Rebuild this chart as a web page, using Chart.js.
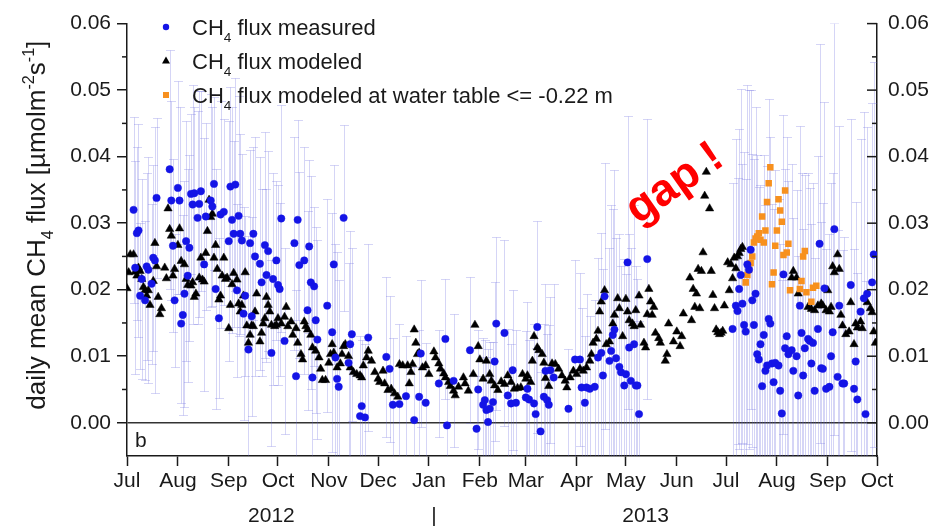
<!DOCTYPE html>
<html>
<head>
<meta charset="utf-8">
<title>Daily mean CH4 flux</title>
<script src="https://cdn.jsdelivr.net/npm/chart.js@4.4.1/dist/chart.umd.min.js"></script>
<style>
  html, body { margin: 0; padding: 0; background: #fff; }
  #wrap { width: 940px; height: 526px; }
</style>
</head>
<body>
<div id="wrap"><canvas id="flux" width="940" height="526"></canvas></div>
<script>
// x values are days counted from 1 Jul 2012
const monthDays = [0, 31, 62, 92, 123, 153, 184, 215, 243, 274, 304, 335, 365, 396, 427, 457];
const monthLabels = ['Jul', 'Aug', 'Sep', 'Oct', 'Nov', 'Dec', 'Jan', 'Feb', 'Mar', 'Apr', 'May', 'Jun', 'Jul', 'Aug', 'Sep', 'Oct'];
const yearLabels = ['2012', '2013'];
const yearCentreDays = [88, 316];
const yearBreakDay = 187;
const fluxTicks = [0, 0.01, 0.02, 0.03, 0.04, 0.05, 0.06];
const fluxMinorTicks = [0.005, 0.015, 0.025, 0.035, 0.045, 0.055];

// measured daily mean: [day, flux, standard deviation]
const measured = [
  [4, 0.0320, 0.014], [5, 0.0233, 0.016], [6, 0.0285, 0.013], [7, 0.0289, 0.016], [8, 0.0191, 0.011],
  [9, 0.0216, 0.015], [11, 0.0184, 0.012], [12, 0.0235, 0.014], [13, 0.0230, 0.017], [15, 0.0209, 0.012],
  [16, 0.0248, 0.014], [17, 0.0244, 0.020], [18, 0.0338, 0.012], [26, 0.0381, 0.018], [27, 0.0334, 0.015],
  [28, 0.0266, 0.013], [29, 0.0184, 0.010], [31, 0.0353, 0.016], [32, 0.0334, 0.014], [33, 0.0149, 0.012],
  [34, 0.0162, 0.015], [35, 0.0194, 0.017], [36, 0.0273, 0.018], [37, 0.0221, 0.016], [38, 0.0263, 0.014],
  [39, 0.0344, 0.012], [40, 0.0328, 0.018], [41, 0.0345, 0.013], [43, 0.0308, 0.016], [44, 0.0329, 0.017],
  [45, 0.0348, 0.015], [47, 0.0238, 0.019], [48, 0.0310, 0.014], [51, 0.0334, 0.016], [52, 0.0325, 0.015],
  [53, 0.0359, 0.013], [54, 0.0201, 0.018], [56, 0.0157, 0.012], [57, 0.0313, 0.017], [59, 0.0317, 0.014],
  [62, 0.0273, 0.018], [63, 0.0355, 0.015], [64, 0.0305, 0.017], [65, 0.0284, 0.014], [66, 0.0358, 0.016],
  [67, 0.0199, 0.013], [68, 0.0311, 0.018], [69, 0.0284, 0.015], [70, 0.0274, 0.013], [71, 0.0164, 0.016],
  [72, 0.0191, 0.012], [74, 0.0110, 0.017], [75, 0.0270, 0.014], [76, 0.0160, 0.015], [77, 0.0284, 0.013],
  [78, 0.0250, 0.018], [81, 0.0239, 0.016], [82, 0.0211, 0.014], [84, 0.0267, 0.017], [85, 0.0222, 0.013],
  [86, 0.0258, 0.015], [88, 0.0105, 0.014], [89, 0.0216, 0.016], [91, 0.0244, 0.012], [92, 0.0207, 0.015],
  [93, 0.0201, 0.013], [94, 0.0307, 0.017], [96, 0.0123, 0.014], [102, 0.0270, 0.016], [103, 0.0070, 0.013],
  [104, 0.0305, 0.015], [105, 0.0237, 0.014], [108, 0.0244, 0.017], [110, 0.0169, 0.015], [111, 0.0265, 0.013],
  [112, 0.0211, 0.016], [113, 0.0068, 0.014], [114, 0.0205, 0.012], [115, 0.0154, 0.014], [116, 0.0125, 0.015],
  [122, 0.0176, 0.016], [125, 0.0136, 0.018], [126, 0.0238, 0.015], [127, 0.0098, 0.017], [128, 0.0066, 0.019],
  [129, 0.0054, 0.016], [132, 0.0308, 0.014], [135, 0.0090, 0.015], [136, 0.0118, 0.017], [137, 0.0133, 0.013],
  [142, 0.0010, 0.012], [143, 0.0025, 0.010], [145, 0.0008, 0.011], [147, 0.0128, 0.014], [158, 0.0099, 0.012],
  [160, 0.0081, 0.011], [162, 0.0027, 0.010], [166, 0.0028, 0.012], [170, 0.0040, 0.009], [175, 0.0004, 0.008],
  [178, 0.0039, 0.010], [179, 0.0104, 0.011], [182, 0.0030, 0.009], [190, 0.0059, 0.008], [194, 0.0126, 0.009],
  [195, -0.0004, 0.007], [199, 0.0063, 0.010], [209, 0.0109, 0.011], [213, -0.0009, 0.008], [214, 0.0050, 0.009],
  [217, 0.0027, 0.010], [218, 0.0034, 0.009], [219, 0.0019, 0.008], [220, 0.0001, 0.011], [221, 0.0021, 0.010],
  [223, 0.0031, 0.009], [224, 0.0092, 0.012], [225, 0.0149, 0.013], [230, 0.0135, 0.014], [232, 0.0041, 0.010],
  [234, 0.0029, 0.009], [235, 0.0079, 0.012], [237, 0.0030, 0.011], [243, 0.0038, 0.010], [244, 0.0051, 0.013],
  [245, 0.0035, 0.009], [248, 0.0029, 0.012], [249, 0.0013, 0.010], [250, 0.0144, 0.016], [252, -0.0013, 0.009],
  [254, 0.0039, 0.011], [255, 0.0078, 0.013], [256, 0.0034, 0.010], [257, 0.0027, 0.012], [258, 0.0079, 0.011],
  [260, 0.0068, 0.014], [269, 0.0021, 0.009], [273, 0.0095, 0.015], [276, 0.0095, 0.013], [277, 0.0053, 0.012],
  [279, 0.0030, 0.010], [280, 0.0053, 0.014], [282, 0.0051, 0.011], [285, 0.0054, 0.013], [287, 0.0098, 0.015],
  [289, 0.0105, 0.018], [290, 0.0071, 0.016], [291, 0.0190, 0.020], [294, 0.0093, 0.017], [295, 0.0108, 0.022],
  [296, 0.0132, 0.019], [297, 0.0140, 0.024], [298, 0.0097, 0.018], [300, 0.0084, 0.020], [301, 0.0076, 0.016],
  [303, 0.0056, 0.019], [304, 0.0073, 0.015], [305, 0.0241, 0.022], [306, 0.0113, 0.017], [307, 0.0063, 0.020],
  [309, 0.0118, 0.021], [310, 0.0056, 0.018], [311, 0.0056, 0.016], [312, 0.0013, 0.014], [317, 0.0246, 0.021],
  [369, 0.0141, 0.022], [371, 0.0176, 0.025], [372, 0.0168, 0.020], [373, 0.0201, 0.024], [374, 0.0222, 0.028],
  [375, 0.0179, 0.021], [376, 0.0147, 0.026], [377, 0.0137, 0.023], [378, 0.0238, 0.027], [379, 0.0230, 0.027],
  [380, 0.0260, 0.024], [381, 0.0184, 0.022], [382, 0.0147, 0.025], [383, 0.0194, 0.028], [384, 0.0103, 0.030],
  [385, 0.0095, 0.026], [386, 0.0118, 0.024], [387, 0.0055, 0.022], [388, 0.0132, 0.027], [389, 0.0078, 0.025],
  [390, 0.0086, 0.030], [391, 0.0156, 0.033], [392, 0.0149, 0.028], [393, 0.0089, 0.024], [394, 0.0061, 0.026],
  [395, 0.0090, 0.029], [397, 0.0086, 0.025], [398, 0.0048, 0.022], [399, 0.0014, 0.020], [400, 0.0223, 0.024],
  [401, 0.0112, 0.027], [402, 0.0130, 0.030], [403, 0.0103, 0.026], [405, 0.0109, 0.028], [406, 0.0078, 0.023],
  [408, 0.0100, 0.025], [409, 0.0041, 0.021], [410, 0.0176, 0.027], [411, 0.0135, 0.024], [412, 0.0071, 0.022],
  [413, 0.0112, 0.026], [415, 0.0126, 0.025], [416, 0.0123, 0.023], [417, 0.0089, 0.021], [418, 0.0120, 0.024],
  [419, 0.0048, 0.020], [421, 0.0141, 0.026], [422, 0.0269, 0.030], [423, 0.0082, 0.022], [424, 0.0081, 0.025],
  [425, 0.0202, 0.028], [426, 0.0051, 0.021], [428, 0.0054, 0.023], [429, 0.0100, 0.026], [430, 0.0136, 0.024],
  [431, 0.0291, 0.031], [433, 0.0069, 0.022], [434, 0.0176, 0.027], [436, 0.0059, 0.020], [437, 0.0059, 0.022],
  [441, 0.0207, 0.025], [443, 0.0051, 0.021], [444, 0.0092, 0.024], [445, 0.0035, 0.019], [447, 0.0167, 0.026],
  [449, 0.0187, 0.028], [450, 0.0013, 0.020], [451, 0.0194, 0.025], [454, 0.0211, 0.027], [455, 0.0253, 0.029]
];

// modeled daily mean: [day, flux]
const modeled = [
  [0, 0.0202], [1, 0.0226], [2, 0.0253], [4, 0.0253], [5, 0.0227], [6, 0.0221], [7, 0.0233], [8, 0.0228],
  [9, 0.0216], [10, 0.0204], [11, 0.0199], [12, 0.0191], [13, 0.0199], [14, 0.0177], [16, 0.0213], [17, 0.0270],
  [18, 0.0235], [19, 0.0189], [20, 0.0163], [21, 0.0172], [23, 0.0233], [24, 0.0217], [25, 0.0322], [26, 0.0291],
  [27, 0.0281], [28, 0.0221], [29, 0.0231], [31, 0.0267], [32, 0.0292], [33, 0.0243], [35, 0.0238], [36, 0.0216],
  [37, 0.0207], [39, 0.0206], [40, 0.0211], [41, 0.0189], [42, 0.0194], [44, 0.0218], [45, 0.0248], [46, 0.0215],
  [47, 0.0212], [48, 0.0255], [49, 0.0288], [50, 0.0335], [51, 0.0309], [52, 0.0314], [53, 0.0248], [54, 0.0267],
  [55, 0.0231], [56, 0.0185], [57, 0.0191], [58, 0.0221], [59, 0.0248], [60, 0.0216], [61, 0.0218], [62, 0.0142],
  [63, 0.0177], [64, 0.0208], [65, 0.0225], [67, 0.0215], [68, 0.0179], [69, 0.0167], [70, 0.0177], [71, 0.0191],
  [72, 0.0226], [73, 0.0146], [74, 0.0120], [75, 0.0132], [76, 0.0146], [77, 0.0145], [78, 0.0167], [79, 0.0194],
  [81, 0.0122], [82, 0.0135], [83, 0.0149], [84, 0.0157], [85, 0.0189], [86, 0.0177], [87, 0.0167], [88, 0.0147],
  [90, 0.0145], [91, 0.0147], [92, 0.0157], [94, 0.0149], [96, 0.0159], [97, 0.0174], [98, 0.0145], [100, 0.0152],
  [101, 0.0132], [103, 0.0142], [104, 0.0120], [106, 0.0103], [107, 0.0095], [108, 0.0152], [109, 0.0145],
  [110, 0.0140], [112, 0.0132], [113, 0.0113], [115, 0.0108], [117, 0.0098], [118, 0.0081], [119, 0.0064],
  [121, 0.0064], [123, 0.0090], [124, 0.0103], [125, 0.0118], [126, 0.0105], [128, 0.0083], [130, 0.0089],
  [131, 0.0103], [132, 0.0115], [133, 0.0118], [135, 0.0100], [136, 0.0083], [138, 0.0076], [140, 0.0073],
  [142, 0.0071], [143, 0.0068], [144, 0.0086], [146, 0.0098], [147, 0.0108], [149, 0.0093], [151, 0.0076],
  [153, 0.0066], [154, 0.0061], [156, 0.0078], [157, 0.0059], [159, 0.0049], [161, 0.0051], [163, 0.0044],
  [165, 0.0039], [166, 0.0088], [168, 0.0086], [171, 0.0086], [172, 0.0059], [173, 0.0076], [174, 0.0088],
  [175, 0.0140], [176, 0.0120], [177, 0.0103], [178, 0.0105], [180, 0.0083], [182, 0.0086], [184, 0.0073],
  [187, 0.0107], [188, 0.0098], [190, 0.0089], [191, 0.0081], [193, 0.0074], [194, 0.0068], [196, 0.0061],
  [197, 0.0055], [199, 0.0048], [200, 0.0041], [202, 0.0054], [205, 0.0068], [206, 0.0059], [208, 0.0048],
  [211, 0.0073], [212, 0.0147], [214, 0.0115], [215, 0.0095], [217, 0.0066], [219, 0.0093], [221, 0.0073],
  [222, 0.0063], [224, 0.0056], [226, 0.0049], [228, 0.0062], [230, 0.0058], [232, 0.0071], [234, 0.0061],
  [236, 0.0051], [238, 0.0052], [240, 0.0053], [241, 0.0073], [243, 0.0066], [244, 0.0071], [246, 0.0061],
  [247, 0.0093], [248, 0.0130], [250, 0.0113], [251, 0.0109], [253, 0.0103], [254, 0.0090], [255, 0.0067],
  [257, 0.0055], [259, 0.0089], [261, 0.0088], [263, 0.0081], [265, 0.0071], [267, 0.0063], [268, 0.0053],
  [270, 0.0068], [272, 0.0078], [274, 0.0073], [276, 0.0081], [278, 0.0078], [280, 0.0083], [282, 0.0093],
  [283, 0.0103], [284, 0.0120], [286, 0.0126], [287, 0.0138], [288, 0.0167], [289, 0.0182], [291, 0.0199],
  [292, 0.0118], [294, 0.0122], [296, 0.0149], [297, 0.0162], [299, 0.0187], [300, 0.0172], [302, 0.0130],
  [304, 0.0186], [305, 0.0167], [306, 0.0154], [308, 0.0149], [309, 0.0145], [310, 0.0169], [312, 0.0191],
  [313, 0.0147], [315, 0.0120], [316, 0.0113], [317, 0.0163], [318, 0.0201], [319, 0.0182], [320, 0.0162],
  [321, 0.0174], [322, 0.0135], [324, 0.0127], [325, 0.0120], [328, 0.0093], [329, 0.0103], [330, 0.0149],
  [333, 0.0122], [335, 0.0137], [337, 0.0115], [338, 0.0130], [339, 0.0164], [343, 0.0218], [344, 0.0154],
  [345, 0.0201], [346, 0.0174], [347, 0.0194], [348, 0.0231], [349, 0.0172], [350, 0.0228], [351, 0.0256],
  [352, 0.0341], [353, 0.0377], [355, 0.0322], [356, 0.0228], [357, 0.0192], [358, 0.0172], [359, 0.0140],
  [360, 0.0136], [361, 0.0133], [362, 0.0135], [363, 0.0138], [364, 0.0176], [366, 0.0241], [367, 0.0199],
  [368, 0.0238], [369, 0.0217], [370, 0.0248], [371, 0.0232], [372, 0.0250], [373, 0.0255], [374, 0.0261],
  [375, 0.0264], [405, 0.0218], [406, 0.0228], [408, 0.0218], [409, 0.0194], [415, 0.0174], [417, 0.0171],
  [419, 0.0169], [421, 0.0176], [423, 0.0179], [424, 0.0176], [426, 0.0169], [427, 0.0199], [428, 0.0167],
  [429, 0.0174], [430, 0.0235], [431, 0.0226], [433, 0.0253], [434, 0.0231], [435, 0.0162], [436, 0.0146],
  [438, 0.0133], [440, 0.0137], [441, 0.0181], [443, 0.0118], [444, 0.0149], [445, 0.0143], [447, 0.0152],
  [448, 0.0142], [451, 0.0181], [453, 0.0172], [454, 0.0166], [455, 0.0137], [456, 0.0120]
];

// modeled at water table <= -0.22 m: [day, flux]
const modeledLowTable = [
  [377, 0.0211], [378, 0.0222], [379, 0.0230], [380, 0.0240], [381, 0.0250], [382, 0.0271], [383, 0.0277],
  [384, 0.0280], [385, 0.0285], [386, 0.0275], [387, 0.0310], [388, 0.0271], [389, 0.0289], [390, 0.0332],
  [391, 0.0360], [392, 0.0384], [393, 0.0208], [394, 0.0226], [395, 0.0266], [396, 0.0289], [397, 0.0336],
  [398, 0.0319], [399, 0.0302], [400, 0.0252], [401, 0.0349], [402, 0.0256], [403, 0.0269], [404, 0.0199],
  [410, 0.0201], [411, 0.0213], [412, 0.0250], [413, 0.0258], [414, 0.0196], [417, 0.0182], [418, 0.0203],
  [420, 0.0206]
];

const FONT = '"Liberation Sans", Arial, Helvetica, sans-serif';
const INK = '#1a1a1a';
const BLUE = '#1414e6';
const ORANGE = '#f7901e';

const toPoints = rows => rows.map(r => ({ x: r[0], y: r[1] }));

// text runs with sub/superscripts, e.g. CH4 and m-2
function richWidth(ctx, parts, size) {
  let w = 0;
  parts.forEach(([t, mode]) => {
    ctx.font = `${mode ? size * 0.62 : size}px ${FONT}`;
    w += ctx.measureText(t).width;
  });
  return w;
}
function richText(ctx, parts, x, y, size) {
  let cx = x;
  parts.forEach(([t, mode]) => {
    const s = mode ? size * 0.62 : size;
    ctx.font = `${s}px ${FONT}`;
    const dy = mode === 'sub' ? size * 0.3 : mode === 'sup' ? -size * 0.42 : 0;
    ctx.fillText(t, cx, y + dy);
    cx += ctx.measureText(t).width;
  });
}

const errorBars = {
  id: 'errorBars',
  beforeDatasetsDraw(chart) {
    const { ctx, chartArea: a, scales: { x, y } } = chart;
    ctx.save();
    ctx.beginPath();
    ctx.rect(a.left, a.top, a.right - a.left, a.bottom - a.top);
    ctx.clip();
    ctx.strokeStyle = 'rgba(100, 100, 220, 0.27)';
    ctx.lineWidth = 1;
    measured.forEach(([d, v, sd]) => {
      const px = Math.round(x.getPixelForValue(d)) + 0.5;
      const top = Math.round(y.getPixelForValue(v + sd)) + 0.5;
      const bot = Math.round(y.getPixelForValue(v - sd)) + 0.5;
      ctx.beginPath();
      ctx.moveTo(px, top); ctx.lineTo(px, bot);
      ctx.moveTo(px - 4.5, top); ctx.lineTo(px + 4.5, top);
      ctx.moveTo(px - 4.5, bot); ctx.lineTo(px + 4.5, bot);
      ctx.stroke();
    });
    ctx.restore();
  }
};

const annotations = {
  id: 'annotations',
  afterDraw(chart) {
    const { ctx, chartArea: a, scales: { x, y } } = chart;
    ctx.save();

    // minor ticks outside on the left, all ticks inside on the right
    ctx.strokeStyle = INK;
    ctx.lineWidth = 1.5;
    const tick = (x1, x2, py) => { ctx.beginPath(); ctx.moveTo(x1, py); ctx.lineTo(x2, py); ctx.stroke(); };
    fluxMinorTicks.forEach(v => {
      const py = y.getPixelForValue(v);
      tick(a.left - 5, a.left, py);
      tick(a.right - 5, a.right, py);
    });
    fluxTicks.forEach(v => tick(a.right - 10, a.right, y.getPixelForValue(v)));

    // y axis title
    ctx.fillStyle = INK;
    ctx.textBaseline = 'alphabetic';
    ctx.textAlign = 'left';
    const title = [['daily mean CH', ''], ['4', 'sub'], [' flux [\u00b5molm', ''], ['-2', 'sup'], ['s', ''], ['-1', 'sup'], [']', '']];
    const tSize = 26;
    ctx.save();
    ctx.translate(45, (a.top + y.getPixelForValue(0)) / 2 + 2);
    ctx.rotate(-Math.PI / 2);
    richText(ctx, title, -richWidth(ctx, title, tSize) / 2, 0, tSize);
    ctx.restore();

    // legend
    const lSize = 22;
    const rows = [
      [['CH', ''], ['4', 'sub'], [' flux measured', '']],
      [['CH', ''], ['4', 'sub'], [' flux modeled', '']],
      [['CH', ''], ['4', 'sub'], [' flux modeled at water table <= -0.22 m', '']]
    ];
    const rowBase = [35, 69, 103];
    rows.forEach((r, i) => richText(ctx, r, 192, rowBase[i], lSize));
    ctx.fillStyle = BLUE;
    ctx.beginPath(); ctx.arc(166, 27, 3.2, 0, Math.PI * 2); ctx.fill();
    ctx.fillStyle = '#000';
    ctx.beginPath(); ctx.moveTo(166, 56.5); ctx.lineTo(170, 63.5); ctx.lineTo(162, 63.5); ctx.closePath(); ctx.fill();
    ctx.fillStyle = ORANGE;
    ctx.fillRect(163, 92, 6, 6);

    // years under the month labels
    ctx.fillStyle = INK;
    ctx.textAlign = 'center';
    ctx.font = `21px ${FONT}`;
    yearLabels.forEach((t, i) => ctx.fillText(t, x.getPixelForValue(yearCentreDays[i]), 522));
    ctx.fillText('|', x.getPixelForValue(yearBreakDay), 522);

    // panel letter
    ctx.textAlign = 'left';
    ctx.font = `21px ${FONT}`;
    ctx.fillText('b', a.left + 8, 447);

    // gap note
    ctx.save();
    ctx.translate(675, 184);
    ctx.rotate(-35 * Math.PI / 180);
    ctx.fillStyle = '#ff0000';
    ctx.font = `bold 45px ${FONT}`;
    ctx.textAlign = 'center';
    ctx.textBaseline = 'middle';
    ctx.fillText('gap !', 0, 0);
    ctx.restore();

    ctx.restore();
  }
};

const tickFont = { family: FONT, size: 21 };

new Chart(document.getElementById('flux'), {
  type: 'scatter',
  data: {
    datasets: [
      {
        label: 'CH4 flux measured',
        data: toPoints(measured),
        order: 0,
        pointStyle: 'circle',
        pointRadius: 3.7,
        backgroundColor: BLUE,
        borderColor: BLUE,
        borderWidth: 0.5
      },
      {
        label: 'CH4 flux modeled at water table <= -0.22 m',
        data: toPoints(modeledLowTable),
        order: 1,
        pointStyle: 'rect',
        pointRadius: 4.6,
        backgroundColor: ORANGE,
        borderColor: ORANGE,
        borderWidth: 0
      },
      {
        label: 'CH4 flux modeled',
        data: toPoints(modeled),
        order: 2,
        pointStyle: 'triangle',
        pointRadius: 4.8,
        backgroundColor: '#000',
        borderColor: '#000',
        borderWidth: 0.5
      }
    ]
  },
  options: {
    responsive: false,
    animation: false,
    events: [],
    layout: { padding: { top: 16, left: 0, right: 0, bottom: 0 } },
    plugins: { legend: { display: false }, tooltip: { enabled: false } },
    scales: {
      x: {
        type: 'linear',
        min: monthDays[0],
        max: monthDays[monthDays.length - 1],
        afterBuildTicks: s => { s.ticks = monthDays.map(v => ({ value: v })); },
        afterFit: s => { s.height = 70; },
        ticks: {
          autoSkip: false,
          maxRotation: 0,
          padding: 3,
          color: INK,
          font: tickFont,
          callback: (v, i) => monthLabels[i]
        },
        grid: { drawOnChartArea: false, tickLength: 10, tickColor: INK, tickWidth: 1.5 },
        border: { color: INK, width: 1.5 }
      },
      y: {
        position: 'left',
        min: -0.005,
        max: 0.06,
        afterBuildTicks: s => { s.ticks = fluxTicks.map(v => ({ value: v })); },
        afterFit: s => { s.width = 127; },
        ticks: { padding: 6, color: INK, font: tickFont, callback: v => v.toFixed(2) },
        grid: {
          tickLength: 10,
          tickColor: INK,
          tickWidth: 1.5,
          lineWidth: 1.5,
          color: c => (c.tick && Math.abs(c.tick.value) < 1e-9 ? '#333' : 'rgba(0,0,0,0)')
        },
        border: { color: INK, width: 1.5 }
      },
      y2: {
        position: 'right',
        min: -0.005,
        max: 0.06,
        afterBuildTicks: s => { s.ticks = fluxTicks.map(v => ({ value: v })); },
        afterFit: s => { s.width = 63; },
        ticks: { padding: 11, color: INK, font: tickFont, callback: v => v.toFixed(2) },
        grid: { drawOnChartArea: false, drawTicks: false },
        border: { color: INK, width: 1.5 }
      }
    }
  },
  plugins: [errorBars, annotations]
});
</script>
</body>
</html>
